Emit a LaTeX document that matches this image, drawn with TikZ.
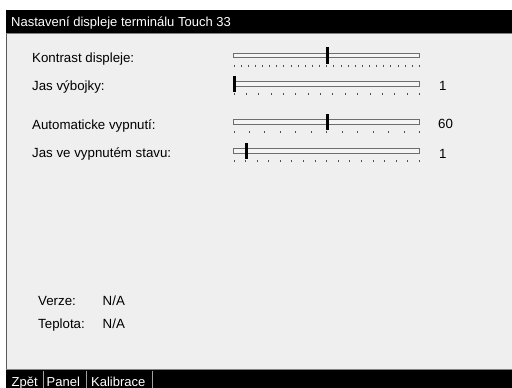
\documentclass[tikz,border=0pt]{standalone}
\usepackage{fontspec}
\setmainfont{Liberation Sans}
\definecolor{panelbg}{HTML}{EFEFEF}
\definecolor{edgegray}{HTML}{808080}
\definecolor{trackfill}{HTML}{F4F4F4}
\definecolor{tickgray}{HTML}{505050}
\definecolor{sepgray}{HTML}{A0A0A0}
\tikzset{
  lbl/.style={anchor=base west, inner sep=0pt, font=\fontsize{13.3}{15}\selectfont, text=black},
  wlbl/.style={anchor=base west, inner sep=0pt, font=\fontsize{13}{15}\selectfont, text=white},
  trackbox/.style={draw=edgegray!85!black, fill=trackfill, line width=1pt},
  thumbbox/.style={fill=black},
  tickmark/.style={draw=tickgray, line width=1pt},
}
% slider: #1 track centre y, #2 intervals, #3 thumb centre x
\newcommand\mkslider[3]{%
  \draw[trackbox] (233.5,#1-2.3) rectangle (419.5,#1+2.3);
  \foreach \k in {0,...,#2}{
    \draw[tickmark] ({234+\k*(185.5/#2)},#1+9.2) -- ++(0,2);
  }
  \fill[thumbbox] (#3-1.5,#1-8.2) rectangle (#3+1.5,#1+8.2);
}
\begin{document}
\begin{tikzpicture}[x=1pt,y=-1pt]
\useasboundingbox (0,0) rectangle (512,388);
\fill[white] (0,0) rectangle (512,388);
% title bar
\fill[black] (6,10) rectangle (512,33);
\fill[panelbg] (6,33) rectangle (512,370);
\draw[edgegray, line width=1.2pt] (6,33.6) -- (512,33.6);
\draw[edgegray!70!black, line width=1.2pt] (6.8,33.6) -- (6.8,369.4);
\draw[edgegray, line width=1.3pt] (6,369.4) -- (512,369.4);
\fill[black] (6,370.2) rectangle (512,388);
\node[wlbl] (title) at (11,27) {Nastavení displeje terminálu Touch 33};

% labels
\node[lbl] (l1) at (32,62.5) {Kontrast displeje:};
\node[lbl] (l2) at (32,90) {Jas výbojky:};
\node[lbl] (l3) at (32,129.5) {Automaticke vypnutí:};
\node[lbl] (l4) at (32,157) {Jas ve vypnutém stavu:};

% sliders
\mkslider{55.5}{26}{327}
\mkslider{83.7}{15}{234.5}
\mkslider{122}{12}{327}
\mkslider{151}{16}{246}

% values
\node[lbl] (v2) at (439,90.5) {1};
\node[lbl] (v3) at (438,128.5) {60};
\node[lbl] (v4) at (439,158) {1};

% info
\node[lbl] (verze) at (38,305) {Verze:};
\node[lbl] (verzev) at (102.5,305) {N/A};
\node[lbl] (tepl) at (38,328.5) {Teplota:};
\node[lbl] (teplv) at (102.5,328.5) {N/A};

% bottom bar
\node[wlbl] (b1) at (11.5,386.5) {Zpět};
\node[wlbl] (b2) at (46.5,386.5) {Panel};
\node[wlbl] (b3) at (91,386.5) {Kalibrace};
\draw[sepgray, line width=1pt] (43,370.5) -- (43,388);
\draw[sepgray, line width=1pt] (86,370.5) -- (86,388);
\draw[sepgray, line width=1pt] (152.5,370.5) -- (152.5,388);
\end{tikzpicture}
\end{document}
